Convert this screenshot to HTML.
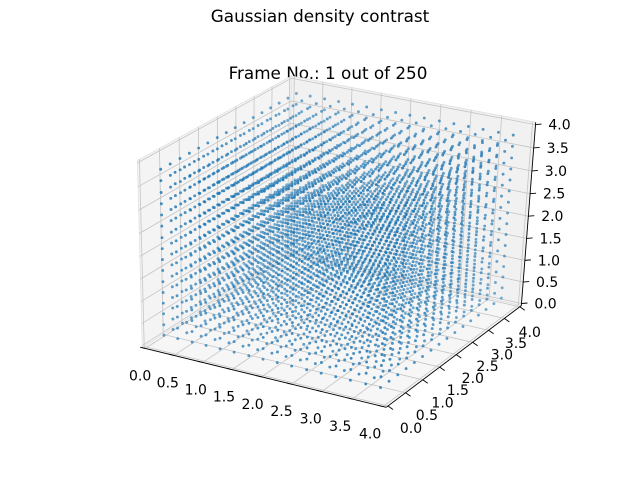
<!DOCTYPE html>
<html><head><meta charset="utf-8"><style>
html,body{margin:0;padding:0;background:#fff;}
svg{display:block;font-family:"DejaVu Sans","Liberation Sans",sans-serif;}
</style></head><body>
<svg id="chart" width="640" height="480" viewBox="0 0 640 480">
<text x="320" y="22" text-anchor="middle" font-size="16.8" fill="#000">Gaussian density contrast</text>
<text x="328" y="79" text-anchor="middle" font-size="16.8" fill="#000">Frame No.: 1 out of 250</text>
<g id="panes"></g>
<g id="grid"></g>
<g id="axes"></g>
<g id="pts"></g>
<g id="ticks"></g>
<g id="labels"></g>
</svg>
<script>
const gridX = [0.18,0.42,0.67,0.91,1.15,1.39,1.64,1.88,2.12,2.36,2.61,2.85,3.09,3.33,3.58,3.82];
const gridY = [0.18,0.42,0.67,0.91,1.15,1.39,1.64,1.88,2.12,2.36,2.61,2.85,3.09,3.33,3.58,3.82];
const gridZ = [0.18,0.42,0.67,0.91,1.15,1.39,1.64,1.88,2.12,2.36,2.61,2.85,3.09,3.33,3.58,3.82];
const tickVals = [0,0.5,1,1.5,2,2.5,3,3.5,4];
const tickLabels = ["0.0","0.5","1.0","1.5","2.0","2.5","3.0","3.5","4.0"];
const LO=-0.05, HI=4.05;

const NS="http://www.w3.org/2000/svg";
const el=(t,a,p)=>{const e=document.createElementNS(NS,t);for(const k in a)e.setAttribute(k,a[k]);p.appendChild(e);return e;};
const deg=Math.PI/180, elev=30*deg, azim=-60*deg, dist=10;
const R0=[0.5,0.5,0.5];
const dir=[Math.cos(elev)*Math.cos(azim),Math.cos(elev)*Math.sin(azim),Math.sin(elev)];
const E=R0.map((c,i)=>c+dist*dir[i]);
const nv=dir;
function cross(a,b){return[a[1]*b[2]-a[2]*b[1],a[2]*b[0]-a[0]*b[2],a[0]*b[1]-a[1]*b[0]];}
function dot(a,b){return a[0]*b[0]+a[1]*b[1]+a[2]*b[2];}
function nrm(a){const l=Math.hypot(...a);return a.map(v=>v/l);}
const uv=nrm(cross([0,0,1],nv)), vv=cross(nv,uv);
function raw(x,y,z){
  const p=[(x-LO)/(HI-LO),(y-LO)/(HI-LO),(z-LO)/(HI-LO)];
  const d=p.map((c,i)=>c-E[i]);const w=-dot(d,nv);
  return [dot(d,uv)/w,dot(d,vv)/w,w];
}
const anc=[[[0,0,0],[147,345]],[[4,0,0],[385,403]],[[4,4,0],[517,304]]];
function solve(k){
  const M=anc.map(a=>{const r=raw(...a[0]);return[r[0],r[1],1];});
  const b=anc.map(a=>a[1][k]);
  const det=m=>m[0][0]*(m[1][1]*m[2][2]-m[1][2]*m[2][1])-m[0][1]*(m[1][0]*m[2][2]-m[1][2]*m[2][0])+m[0][2]*(m[1][0]*m[2][1]-m[1][1]*m[2][0]);
  const D=det(M);
  return [0,1,2].map(c=>det(M.map((row,i)=>row.map((v,j)=>j===c?b[i]:v)))/D);
}
const cx=solve(0), cy=solve(1);
const ZS=0.975;
function P(x,y,z){const r=raw(x,y,z);const X=cx[0]*r[0]+cx[1]*r[1]+cx[2];const Y=cy[0]*r[0]+cy[1]*r[1]+cy[2];return[X,Y,r[2]];}
function poly(pts,fill,g,name){
  const e=el('polygon',{points:pts.map(p=>P(...p).slice(0,2).join(',')).join(' '),fill:fill,stroke:'#e0e0e0','stroke-width':0.8},g);
  
  
}
function line(a,b,st,w,g,name){
  const p=P(...a),q=P(...b);
  const e=el('line',{x1:p[0],y1:p[1],x2:q[0],y2:q[1],stroke:st,'stroke-width':w},g);
  
  
}
const panes=document.getElementById('panes'),grid=document.getElementById('grid');
poly([[LO,LO,LO],[LO,HI,LO],[LO,HI,HI],[LO,LO,HI]],'#f4f4f4',panes,'left-pane');
poly([[LO,HI,LO],[HI,HI,LO],[HI,HI,HI],[LO,HI,HI]],'#f1f1f1',panes,'back-pane');
poly([[LO,LO,LO],[HI,LO,LO],[HI,HI,LO],[LO,HI,LO]],'#f6f6f6',panes,'floor-pane');
const gc='#c4c4c4';
tickVals.forEach(t=>{
  line([LO,t,LO],[LO,t,HI],gc,0.8,grid,'grid-line');
  line([LO,LO,t],[LO,HI,t],gc,0.8,grid,'grid-line');
  line([t,HI,LO],[t,HI,HI],gc,0.8,grid,'grid-line');
  line([LO,HI,t],[HI,HI,t],gc,0.8,grid,'grid-line');
  line([t,LO,LO],[t,HI,LO],gc,0.8,grid,'grid-line');
  line([LO,t,LO],[HI,t,LO],gc,0.8,grid,'grid-line');
});
const axes=document.getElementById('axes');
line([LO,LO,LO],[HI,LO,LO],'#000',0.9,axes,'x-axis-line');
line([HI,LO,LO],[HI,HI,LO],'#000',0.9,axes,'y-axis-line');
line([HI,HI,LO],[HI,HI,HI],'#000',0.9,axes,'z-axis-line');
const pts=[];
gridX.forEach(x=>gridY.forEach(y=>gridZ.forEach(z=>pts.push(P(x,y,z)))));
let dmin=Infinity,dmax=-Infinity;pts.forEach(p=>{dmin=Math.min(dmin,p[2]);dmax=Math.max(dmax,p[2]);});
pts.sort((a,b)=>b[2]-a[2]);
const pg=document.getElementById('pts');
pts.forEach(p=>{
  const a=1-0.55*(p[2]-dmin)/(dmax-dmin);
  const c=el('circle',{cx:p[0].toFixed(2),cy:p[1].toFixed(2),r:1.45,fill:'#1f77b4','fill-opacity':a.toFixed(2)},pg);
  
  
});
const tg=document.getElementById('ticks'),lg=document.getElementById('labels');
function label(x,y,s,name){
  const e=el('text',{x:x,y:y,'text-anchor':'middle','font-size':14,fill:'#000'},lg);
  e.textContent=s;
  
  
}
function tick(p,dx,dy,name){
  const e=el('line',{x1:p[0],y1:p[1],x2:p[0]+dx,y2:p[1]+dy,stroke:'#000','stroke-width':0.9},tg);
  
  
}
tickVals.forEach((t,i)=>{
  const f=t/4;
  let p=P(t,LO,LO);tick(p,-5,-1.2,'x-tick');
  label(p[0]-5-8*f,p[1]+32,tickLabels[i],'x-tick-label');
  p=P(HI,t,LO);tick(p,5,3.5,'y-tick');
  label(p[0]+23-13*f,p[1]+27+3*f,tickLabels[i],'y-tick-label');
  p=P(HI,HI,t);tick(p,6,-0.5,'z-tick');
  label(p[0]+24,p[1]+5,tickLabels[i],'z-tick-label');
});
</script>
</body></html>
